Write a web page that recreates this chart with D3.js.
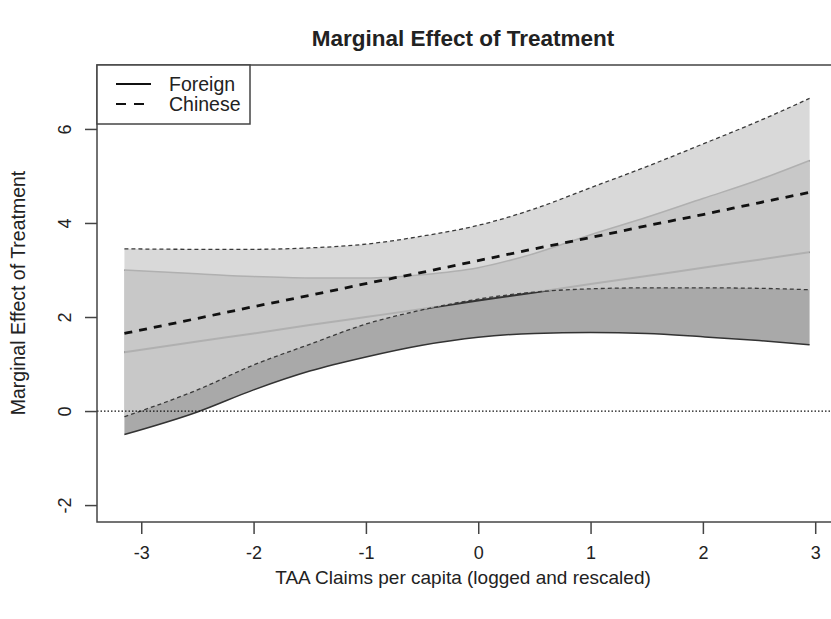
<!DOCTYPE html>
<html>
<head>
<meta charset="utf-8">
<script src="https://cdn.jsdelivr.net/npm/d3@7"></script>
<style>
  body { margin: 0; background: #fff; }
  text { font-family: "Liberation Sans", Arial, sans-serif; fill: #222; }
</style>
</head>
<body>
<svg id="chart" width="831" height="619"></svg>
<script>
// values
var xs = [-3.15, -2.5, -2, -1.5, -1, -0.5, 0, 0.5, 1, 1.5, 2, 2.5, 2.95];

// foreign firms: mean and 95% bounds
var foreignMean  = [1.25, 1.48, 1.65, 1.83, 2.00, 2.17, 2.35, 2.52, 2.70, 2.87, 3.05, 3.22, 3.38];
var foreignLower = [-0.50, -0.02, 0.45, 0.85, 1.15, 1.40, 1.57, 1.65, 1.67, 1.65, 1.58, 1.50, 1.41];
var foreignUpper = [3.00, 2.92, 2.86, 2.83, 2.83, 2.90, 3.05, 3.35, 3.75, 4.12, 4.52, 4.92, 5.33];

// chinese firms: mean and 95% bounds
var chineseMean  = [1.65, 1.97, 2.22, 2.46, 2.71, 2.95, 3.20, 3.45, 3.69, 3.94, 4.18, 4.43, 4.65];
var chineseLower = [-0.12, 0.45, 0.98, 1.42, 1.85, 2.15, 2.38, 2.53, 2.60, 2.62, 2.62, 2.61, 2.58];
var chineseUpper = [3.45, 3.44, 3.44, 3.47, 3.55, 3.72, 3.95, 4.30, 4.75, 5.20, 5.68, 6.17, 6.65];

var xTicks = [-3, -2, -1, 0, 1, 2, 3];
var yTicks = [-2, 0, 2, 4, 6];
var legendLabels = ["Foreign", "Chinese"];

var svg = d3.select("#chart");
// plot box edges (note: "top" is taken by window.top)
var boxL = 97, boxR = 837, boxT = 65, boxB = 522;

var x = d3.scaleLinear().domain([-3.394, 3.194]).range([boxL, boxR]);
var y = d3.scaleLinear().domain([-2.36, 7.36]).range([boxB, boxT]);

function rows(lo, mid, hi) {
  return xs.map(function(v, i) { return {x: v, lo: lo[i], mid: mid[i], hi: hi[i]}; });
}
var foreign = rows(foreignLower, foreignMean, foreignUpper);
var chinese = rows(chineseLower, chineseMean, chineseUpper);

var band = d3.area().curve(d3.curveMonotoneX)
  .x(function(d) { return x(d.x); })
  .y0(function(d) { return y(d.lo); })
  .y1(function(d) { return y(d.hi); });
function line(key) {
  return d3.line().curve(d3.curveMonotoneX)
    .x(function(d) { return x(d.x); })
    .y(function(d) { return y(d[key]); });
}

var plot = svg.append("g");

// foreign band + its lines (later partly covered by the chinese band)
plot.append("path").datum(foreign).attr("d", band).attr("fill", "#a9a9a9");
["lo", "hi"].forEach(function(k) {
  plot.append("path").datum(foreign).attr("d", line(k))
    .attr("fill", "none").attr("stroke", "#333").attr("stroke-width", 1.5);
});
plot.append("path").datum(foreign).attr("d", line("mid"))
  .attr("fill", "none").attr("stroke", "#333").attr("stroke-width", 2);

// chinese band, see-through so the overlap stays a bit darker
plot.append("path").datum(chinese).attr("d", band)
  .attr("fill", "rgb(207,207,207)").attr("fill-opacity", 0.8);
["lo", "hi"].forEach(function(k) {
  plot.append("path").datum(chinese).attr("d", line(k))
    .attr("fill", "none").attr("stroke", "#3a3a3a").attr("stroke-width", 1.3)
    .attr("stroke-dasharray", "4,3");
});
plot.append("path").datum(chinese).attr("d", line("mid"))
  .attr("fill", "none").attr("stroke", "#111").attr("stroke-width", 2.8)
  .attr("stroke-dasharray", "8,7");

// zero line
plot.append("line")
  .attr("x1", boxL).attr("x2", boxR).attr("y1", y(0)).attr("y2", y(0))
  .attr("stroke", "#111").attr("stroke-width", 1.3).attr("stroke-dasharray", "1.5,2");

// axes
var xAxis = svg.append("g")
  .attr("transform", "translate(0," + boxB + ")")
  .call(d3.axisBottom(x).tickValues(xTicks).tickSize(12).tickPadding(12)
    .tickFormat(function(d) { return d; }));
var yAxis = svg.append("g")
  .attr("transform", "translate(" + boxL + ",0)")
  .call(d3.axisLeft(y).tickValues(yTicks).tickSize(12)
    .tickFormat(function(d) { return d; }));
[xAxis, yAxis].forEach(function(a) {
  a.select(".domain").remove();
  a.selectAll(".tick line").attr("stroke", "#444").attr("stroke-width", 1.5);
  a.selectAll("text").style("font-size", "18px").attr("fill", "#222");
});
yAxis.selectAll("text")
  .attr("x", null).attr("dy", "0.36em")
  .attr("text-anchor", "middle")
  .attr("transform", "translate(-32,0) rotate(-90)");

// plot box
svg.append("rect")
  .attr("x", boxL).attr("y", boxT).attr("width", boxR - boxL).attr("height", boxB - boxT)
  .attr("fill", "none").attr("stroke", "#444").attr("stroke-width", 1.5);

// titles
svg.append("text").attr("x", 463).attr("y", 46).attr("text-anchor", "middle")
  .style("font-size", "22.5px").style("font-weight", "bold")
  .text("Marginal Effect of Treatment");
svg.append("text").attr("x", 463).attr("y", 584).attr("text-anchor", "middle")
  .style("font-size", "19px")
  .text("TAA Claims per capita (logged and rescaled)");
svg.append("text")
  .attr("transform", "translate(25,293) rotate(-90)")
  .attr("text-anchor", "middle").style("font-size", "19.5px")
  .text("Marginal Effect of Treatment");

// legend
var lg = svg.append("g");
lg.append("rect").attr("x", boxL).attr("y", boxT).attr("width", 153).attr("height", 59)
  .attr("fill", "#fff").attr("stroke", "#444").attr("stroke-width", 1.5);
legendLabels.forEach(function(name, i) {
  var ly = 84 + i * 20;
  lg.append("line").attr("x1", 116).attr("x2", 151).attr("y1", ly).attr("y2", ly)
    .attr("stroke", "#111").attr("stroke-width", 2.2)
    .attr("stroke-dasharray", i == 0 ? null : "10,8");
  lg.append("text").attr("x", 169).attr("y", ly + 7).style("font-size", "19.5px").text(name);
});
</script>
</body>
</html>
